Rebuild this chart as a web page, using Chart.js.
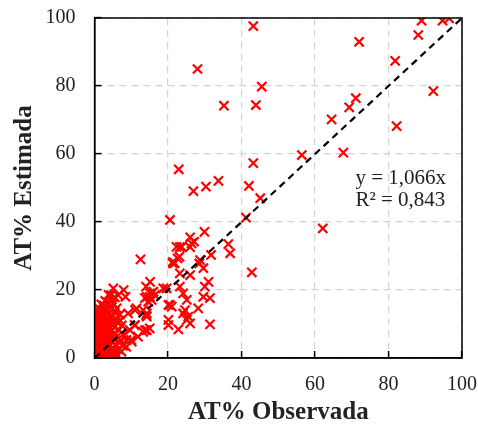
<!DOCTYPE html>
<html lang="pt">
<head>
  <meta charset="UTF-8">
  <title>AT% Observada x Estimada</title>
  <script src="https://cdn.jsdelivr.net/npm/chart.js"></script>
  <style>
    html, body { margin: 0; padding: 0; background: #fff; }
    #box { width: 478px; height: 430px; }
  </style>
</head>
<body>
  <div id="box"><canvas id="grafico"></canvas></div>

<script>
  // valores (AT% observada, AT% estimada)
  var observada = [
    96.5, 94.7, 89.0, 88.1, 72.0, 81.8, 92.2, 71.1, 69.3, 64.5, 82.2, 56.4, 67.7, 43.2, 45.1, 43.2, 45.5, 43.9, 62.1,
    28.0, 35.2, 22.9, 26.9, 30.3, 33.7, 42.0,
    41.2, 20.5, 29.9, 26.0, 27.1, 23.2, 26.0, 36.4, 36.9, 31.7, 22.6, 12.5, 21.3, 28.5, 29.6, 23.2, 26.0, 42.8,
    15.1, 18.7, 23.2, 31.0, 30.0, 31.4, 15.1, 14.2, 24.1, 25.1, 29.6, 20.1, 21.0, 28.2, 14.2, 24.1, 20.1, 25.1,
    26.0, 20.1, 22.8, 31.4, 14.2, 23.7, 26.4, 21.3, 23.1, 28.7, 16.0, 13.7, 24.6, 14.0, 25.5, 10.1, 11.0,
    22.3, 21.8,
    0.2, 0.5, 0.1, 0.8, 0.3, 0.6, 0.2, 0.9, 0.4, 0.1, 0.7, 0.5, 1.0, 0.3, 0.8,
    1.2, 1.5, 1.8, 1.3, 1.6, 1.1, 1.9, 1.4, 1.7, 1.2, 1.9, 1.5,
    2.2, 2.5, 2.8, 2.3, 2.6, 2.9, 2.1, 2.7, 2.4, 2.9, 2.2, 2.5,
    3.1, 3.4, 3.7, 3.2, 3.6, 3.9, 3.3, 3.8, 3.5, 3.0, 3.9, 3.4,
    4.2, 4.5, 4.8, 4.1, 4.6, 4.3, 4.9, 4.4, 4.7, 4.0, 5.1, 4.5,
    5.3, 5.6, 5.9, 5.2, 5.7, 5.4, 5.8, 5.5, 5.1,
    6.2, 6.5, 6.8, 6.1, 6.6, 6.3, 6.9,
    7.3, 7.7, 7.1, 7.8, 7.4, 7.9, 8.4,
    8.6, 10.0, 11.8, 10.9, 13.2, 15.0, 9.1, 13.2, 11.4, 15.0, 8.7, 9.6, 13.7, 11.0, 14.2, 14.6, 15.5, 16.4,
    19.6, 20.5, 14.0,
    0.4, 0.9, 1.4, 2.0, 2.6, 3.5, 4.6, 5.8, 0.6, 1.1, 2.0, 3.0, 4.0, 4.9, 0.2, 1.0, 2.0, 3.0, 3.8, 5.0,
    0.5, 1.3, 2.4, 3.6, 4.5, 0.9, 1.8, 3.0, 0.4, 1.2, 2.0, 3.2, 4.0, 2.9, 1.8, 3.8, 6.0, 7.0, 6.4, 5.5
  ];
  var estimada = [
    99.9, 99.2, 99.2, 95.0, 93.0, 87.4, 78.5, 76.4, 73.7, 70.2, 68.2, 59.7, 60.4, 57.3, 47.0, 97.6, 79.8, 74.4, 38.1,
    85.0, 74.2, 55.5, 49.1, 50.4, 52.1, 50.6,
    41.3, 40.6, 37.1, 35.5, 34.2, 32.6, 32.6, 33.5, 30.8, 30.3, 29.3, 29.0, 27.8, 27.8, 26.4, 24.9, 24.4, 25.2,
    22.4, 20.5, 21.0, 22.4, 21.0, 17.6, 19.0, 18.0, 19.0, 17.1, 18.0, 15.6, 15.1, 14.6, 13.1, 13.1, 11.2, 11.2,
    10.2, 9.7, 8.4, 9.9, 8.2, 32.7, 33.7, 28.3, 29.8, 28.8, 19.5, 17.6, 14.1, 12.6, 12.2, 4.8, 9.7,
    32.7, 27.9,
    0.3, 1.2, 2.5, 0.5, 4.0, 5.5, 7.0, 3.2, 8.5, 10.2, 9.0, 6.3, 1.8, 11.5, 12.8,
    0.4, 2.2, 4.1, 6.0, 7.8, 9.5, 11.0, 13.2, 0.9, 3.3, 5.2, 8.8,
    0.6, 1.9, 3.5, 5.0, 6.8, 8.4, 10.1, 12.0, 14.2, 1.1, 2.8, 15.5,
    0.3, 2.4, 4.2, 6.1, 7.5, 9.3, 11.2, 13.0, 16.3, 3.9, 1.5, 5.3,
    0.8, 2.7, 4.9, 6.6, 8.0, 10.5, 12.4, 14.8, 17.2, 3.4, 20.5, 18.5,
    0.5, 2.1, 3.8, 5.6, 7.2, 9.0, 11.0, 13.5, 16.0,
    0.9, 2.6, 4.5, 6.3, 8.2, 10.4, 12.8,
    1.9, 3.6, 5.2, 7.0, 9.6, 20.0, 18.0,
    3.3, 5.3, 6.3, 9.7, 7.7, 8.7, 13.1, 14.1, 14.6, 18.0, 5.3, 8.2, 8.2, 14.1, 12.2, 16.6, 17.1, 18.5,
    20.5, 15.6, 21.0,
    0.8, 2.0, 1.0, 0.2, 0.9, 1.0, 1.5, 1.2, 3.8, 4.8, 4.3, 5.8, 5.5, 6.8, 6.0, 7.2, 7.5, 8.0, 6.9, 9.8,
    9.8, 10.5, 11.2, 10.3, 11.8, 11.6, 12.6, 12.8, 13.8, 14.6, 13.6, 14.5, 15.8, 16.8, 15.8, 18.6, 14.6, 11.0, 18.5, 17.8
  ];
  var linha1x1 = [0, 100];
  var textoEquacao = ["y = 1,066x", "R² = 0,843"];

  var pontos = [];
  for (var i = 0; i < observada.length; i++) {
    pontos.push({ x: observada[i], y: estimada[i] });
  }
  var linha = [];
  for (var j = 0; j < linha1x1.length; j++) {
    linha.push({ x: linha1x1[j], y: linha1x1[j] });
  }

  var fonteSerif = "'Liberation Serif', 'Times New Roman', serif";

  // moldura completa + texto da equação
  var moldura = {
    id: 'moldura',
    afterDraw: function (chart) {
      var ctx = chart.ctx;
      var a = chart.chartArea;
      ctx.save();
      ctx.strokeStyle = '#000';
      ctx.lineWidth = 1.5;
      ctx.strokeRect(a.left, a.top, a.right - a.left, a.bottom - a.top);

      var sx = chart.scales.x, sy = chart.scales.y;
      ctx.fillStyle = '#222';
      ctx.font = '21px ' + fonteSerif;
      ctx.textBaseline = 'middle';
      ctx.textAlign = 'left';
      ctx.fillText(textoEquacao[0], sx.getPixelForValue(71), sy.getPixelForValue(52.8));
      ctx.fillText(textoEquacao[1], sx.getPixelForValue(71), sy.getPixelForValue(46.4));
      ctx.restore();
    }
  };

  // zera o padding automático dos rótulos, quem manda é o layout.padding
  function semPadding(scale) {
    scale.paddingTop = 0;
    scale.paddingBottom = 0;
    scale.paddingLeft = 0;
    scale.paddingRight = 0;
  }

  var eixo = {
    type: 'linear',
    min: 0,
    max: 100,
    ticks: {
      stepSize: 20,
      color: '#222',
      font: { family: fonteSerif, size: 20 },
      padding: 26
    },
    grid: {
      color: '#d4d4d4',
      lineWidth: 1.2,
      tickLength: -7,
      tickColor: '#000',
      tickWidth: 1.5,
      tickBorderDash: []
    },
    border: { display: true, color: '#000', width: 1.5, dash: [7, 5] },
    title: {
      display: true,
      color: '#222',
      font: { family: fonteSerif, size: 25, weight: 'bold' }
    }
  };

  var eixoX = JSON.parse(JSON.stringify(eixo));
  eixoX.position = 'bottom';
  eixoX.title.text = 'AT% Observada';
  eixoX.title.padding = { top: 0, bottom: 2 };
  eixoX.ticks.padding = 22;
  eixoX.afterFit = function (scale) { scale.height = 72; semPadding(scale); };

  var eixoY = JSON.parse(JSON.stringify(eixo));
  eixoY.position = 'left';
  eixoY.title.text = 'AT% Estimada';
  eixoY.title.padding = { top: 10, bottom: 0 };
  eixoY.afterFit = function (scale) { scale.width = 94.6; semPadding(scale); };

  new Chart(document.getElementById('grafico'), {
    type: 'scatter',
    data: {
      datasets: [
        {
          label: 'Pontos',
          data: pontos,
          pointStyle: 'crossRot',
          pointRadius: 6.5,
          pointBorderWidth: 2.2,
          borderColor: '#ff0000',
          backgroundColor: '#ff0000',
          order: 2
        },
        {
          type: 'line',
          label: '1:1',
          data: linha,
          borderColor: '#000',
          borderWidth: 2.2,
          borderDash: [7, 5],
          pointRadius: 0,
          fill: false,
          order: 1
        }
      ]
    },
    options: {
      responsive: true,
      maintainAspectRatio: false,
      animation: false,
      layout: { padding: { top: 18, right: 16, left: 0, bottom: 0 } },
      plugins: {
        legend: { display: false },
        tooltip: { enabled: false }
      },
      scales: { x: eixoX, y: eixoY }
    },
    plugins: [moldura]
  });
</script>
</body>
</html>
